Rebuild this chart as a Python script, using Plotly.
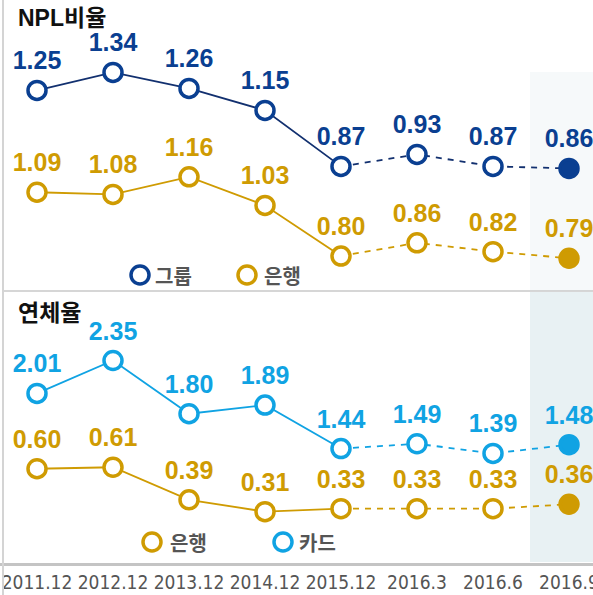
import plotly.graph_objects as go

periods = ["2011.12", "2012.12", "2013.12", "2014.12", "2015.12", "2016.3", "2016.6", "2016.9"]
npl_group = [1.25, 1.34, 1.26, 1.15, 0.87, 0.93, 0.87, 0.86]
npl_bank = [1.09, 1.08, 1.16, 1.03, 0.80, 0.86, 0.82, 0.79]
delinq_card = [2.01, 2.35, 1.80, 1.89, 1.44, 1.49, 1.39, 1.48]
delinq_bank = [0.60, 0.61, 0.39, 0.31, 0.33, 0.33, 0.33, 0.36]

W, H = 593, 595
NAVY = "#0a3f91"
NAVY_LINE = "#12306f"
GOLD = "#cf9b02"
SKY = "#10a3e3"
LABEL_FONT = "Liberation Sans, Arial, Noto Sans CJK KR"

def px(x):
    return x / W

def py(y):
    return 1 - y / H

fig = go.Figure()

def add_series(vals, color, line_color, xa, ya):
    fig.add_trace(go.Scatter(x=periods[:5], y=vals[:5], xaxis=xa, yaxis=ya, mode="lines",
                             line=dict(color=line_color, width=1.8), showlegend=False, hoverinfo="skip"))
    fig.add_trace(go.Scatter(x=periods[4:], y=vals[4:], xaxis=xa, yaxis=ya, mode="lines",
                             line=dict(color=line_color, width=1.8, dash="6px,6px"), showlegend=False, hoverinfo="skip"))
    fills = ["white"] * (len(vals) - 1) + [color]
    fig.add_trace(go.Scatter(x=periods, y=vals, xaxis=xa, yaxis=ya, mode="markers",
                             marker=dict(size=18, color=fills, line=dict(color=color, width=3.5)),
                             showlegend=False, hoverinfo="skip"))
    fig.add_trace(go.Scatter(x=periods, y=vals, xaxis=xa, yaxis=ya, mode="markers+text",
                             text=[f"{v:.2f}" for v in vals], textposition="top center",
                             textfont=dict(family=LABEL_FONT, size=25, color=color, weight="bold"),
                             marker=dict(size=22, color="rgba(0,0,0,0)"),
                             showlegend=False, hoverinfo="skip"))

add_series(npl_group, NAVY, NAVY_LINE, "x", "y")
add_series(npl_bank, GOLD, GOLD, "x", "y2")
add_series(delinq_card, SKY, SKY, "x2", "y3")
add_series(delinq_bank, GOLD, GOLD, "x2", "y4")

xr = [-37 / 76, (W - 37) / 76]
top_dom = [py(291), 1]
bot_dom = [py(563), py(291)]

hidden = dict(visible=False, showgrid=False, zeroline=False, fixedrange=True, automargin=False)
fig.update_layout(
    width=W, height=H,
    margin=dict(l=0, r=0, t=0, b=0, autoexpand=False),
    paper_bgcolor="white", plot_bgcolor="rgba(0,0,0,0)",
    showlegend=False,
    xaxis=dict(hidden, domain=[0, 1], range=xr, type="category", categoryorder="array",
               categoryarray=periods, anchor="y"),
    xaxis2=dict(domain=[0, 1], range=xr, type="category", categoryorder="array",
                categoryarray=periods, anchor="y3", showgrid=False, zeroline=False,
                showline=True, linecolor="#c4c4c4", linewidth=2.5, ticks="", tickangle=0,
                automargin=False, fixedrange=True,
                tickfont=dict(family="DejaVu Sans Condensed, Liberation Sans Narrow, sans-serif",
                              size=19, color="#555555")),
    yaxis=dict(hidden, domain=top_dom, range=[0.247, 1.702], anchor="x"),
    yaxis2=dict(hidden, overlaying="y", range=[0.641, 1.964], anchor="x"),
    yaxis3=dict(hidden, domain=bot_dom, range=[0.258, 3.068], anchor="x2"),
    yaxis4=dict(hidden, overlaying="y3", range=[-0.037, 1.801], anchor="x2"),
)

shapes = [
    dict(type="rect", xref="paper", yref="paper", x0=px(530), x1=1, y0=py(291), y1=py(72),
         fillcolor="#f6f9fa", line=dict(width=0), layer="below"),
    dict(type="rect", xref="paper", yref="paper", x0=px(530), x1=1, y0=py(562), y1=py(292),
         fillcolor="#e8f1f3", line=dict(width=0), layer="below"),
    dict(type="line", xref="paper", yref="paper", x0=px(4), x1=1, y0=py(291), y1=py(291),
         line=dict(color="#c8c8c8", width=1.5)),
    dict(type="line", xref="paper", yref="paper", x0=px(3), x1=px(3), y0=0, y1=1,
         line=dict(color="#d4d4d4", width=2)),
]

legend_items = [
    (140, 275, NAVY, "그룹", 153),
    (247, 275, GOLD, "은행", 262),
    (152, 542, GOLD, "은행", 168),
    (283, 542, SKY, "카드", 297),
]
annotations = [
    dict(text="<b>NPL비율</b>", x=px(16), y=py(18), xref="paper", yref="paper", xanchor="left",
         yanchor="middle", showarrow=False, font=dict(family=LABEL_FONT, size=23, color="#111111")),
    dict(text="<b>연체율</b>", x=px(16), y=py(313), xref="paper", yref="paper", xanchor="left",
         yanchor="middle", showarrow=False, font=dict(family=LABEL_FONT, size=23, color="#111111")),
]
for cx, cy, col, label, tx in legend_items:
    r = 9
    shapes.append(dict(type="circle", xref="paper", yref="paper", x0=px(cx - r), x1=px(cx + r),
                       y0=py(cy + r), y1=py(cy - r), line=dict(color=col, width=3.5), fillcolor="white"))
    annotations.append(dict(text=f"<b>{label}</b>", x=px(tx), y=py(cy), xref="paper", yref="paper",
                            xanchor="left", yanchor="middle", showarrow=False,
                            font=dict(family="Noto Sans CJK KR", size=20, color="#555555")))

fig.update_layout(shapes=shapes, annotations=annotations)
fig.write_html("out.html", config={"displayModeBar": False},
               post_script="document.body.style.margin='0';document.body.style.overflow='hidden';")
